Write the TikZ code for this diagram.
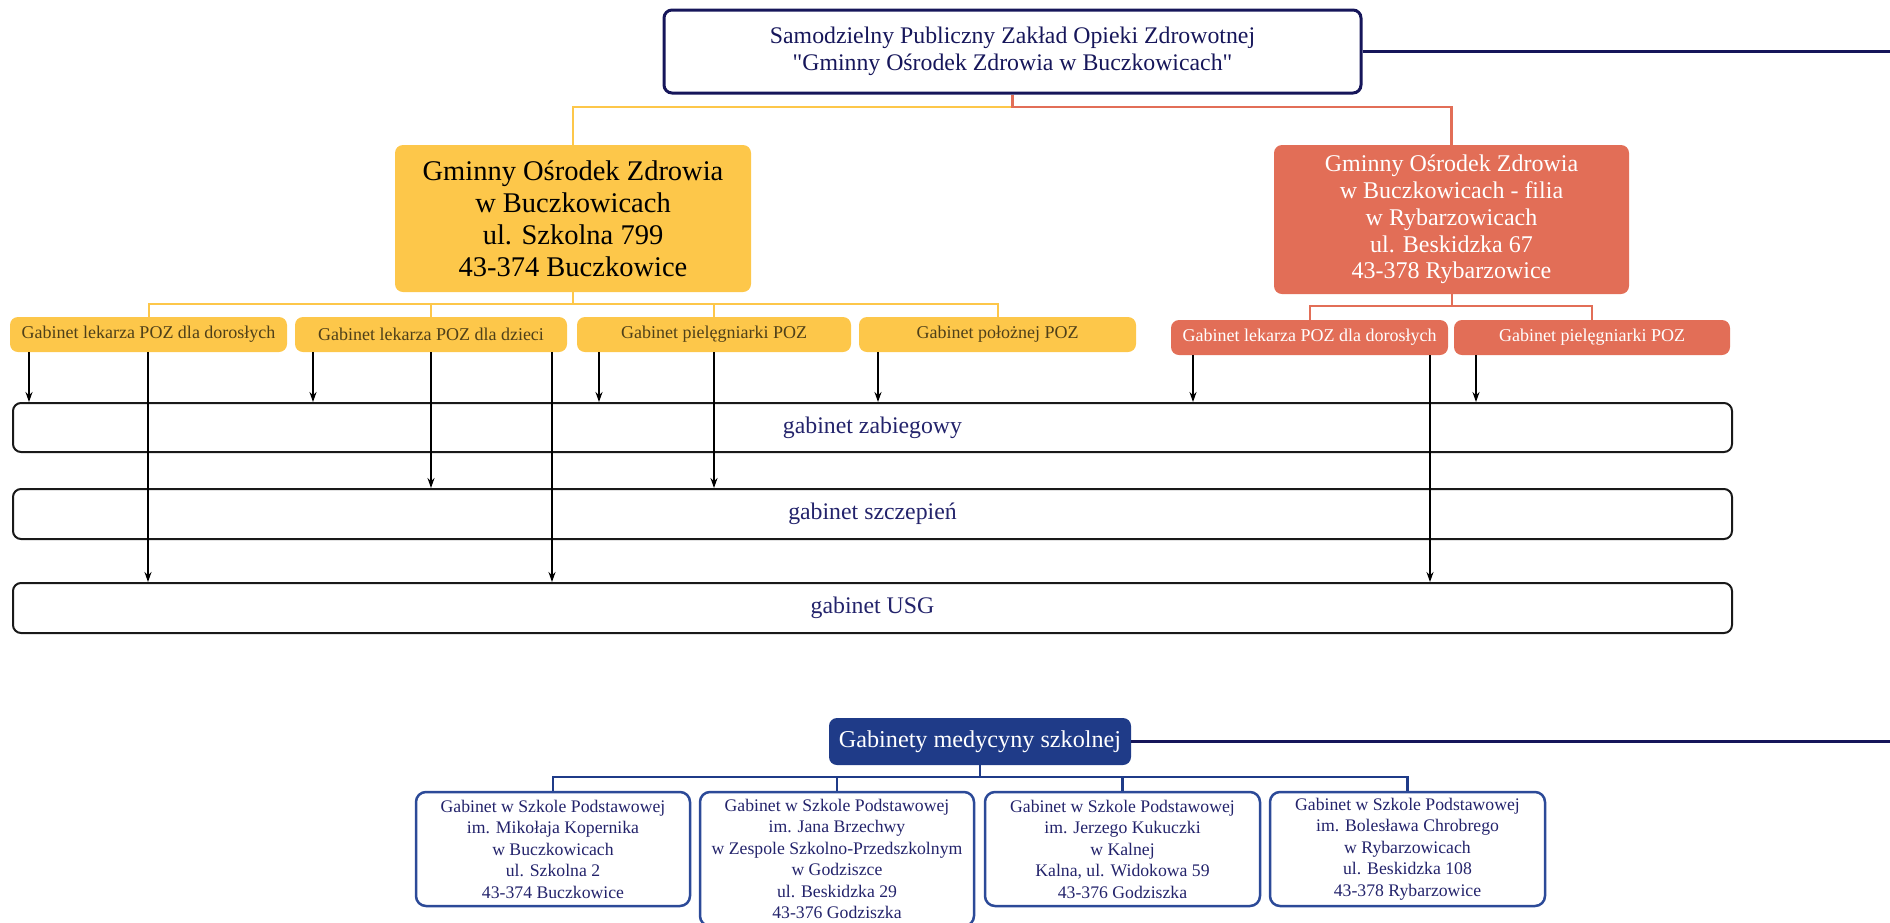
\documentclass[tikz,border=0pt]{standalone}
\usepackage{fontspec}
\setmainfont{Liberation Serif}
\usetikzlibrary{arrows.meta}

\definecolor{granat}{HTML}{16165A}
\definecolor{tekst}{HTML}{23236B}
\definecolor{zolty}{HTML}{FDC74A}
\definecolor{czerwony}{HTML}{E26E57}
\definecolor{szkola}{HTML}{1F3B88}
\definecolor{ramka}{HTML}{2C4A98}
\definecolor{braz}{HTML}{4F4019}

\begin{document}
\begin{tikzpicture}[x=1pt, y=-1pt,
    box/.style={rounded corners=8pt, align=center, inner sep=0pt},
    glowny/.style={box, draw=granat, line width=3pt, text=granat,
      minimum width=697pt, minimum height=83pt,
      font=\fontsize{23.8}{27}\selectfont},
    zolta/.style={box, fill=zolty, text=black, minimum width=356pt, minimum height=147pt,
      font=\fontsize{28.5}{32}\selectfont},
    czerwona/.style={box, fill=czerwony, text=white, minimum width=355pt, minimum height=149pt,
      font=\fontsize{24}{26.8}\selectfont},
    poz/.style={box, minimum height=35pt, font=\fontsize{18}{20}\selectfont},
    gabinet/.style={box, draw=black!90, line width=2pt, text=tekst,
      minimum width=1719pt, minimum height=49pt, font=\fontsize{23.8}{26}\selectfont},
    szkolny/.style={box, rounded corners=10pt, draw=ramka, line width=2.5pt, text=tekst,
      minimum width=274pt, minimum height=114pt, font=\fontsize{17.7}{21.5}\selectfont},
    arr/.style={-{Stealth[length=10pt, width=7pt]}, line width=2.3pt},
    zlink/.style={zolty, line width=2.5pt},
    clink/.style={czerwony, line width=2.5pt},
    slink/.style={szkola, line width=2.2pt}
  ]

  \useasboundingbox (0,0) rectangle (1890,922);

  % Main unit
  \node[glowny] (top) at (1012.5,51.5) {Samodzielny Publiczny Zakład Opieki Zdrowotnej\\\textquotedbl Gminny Ośrodek Zdrowia w Buczkowicach\textquotedbl};
  \coordinate (topend) at (1890,51.5);
  \draw[granat, line width=3pt] (top.east) -- (topend);

  % Two centres
  \node[zolta] (ybig) at (573,218.5) {Gminny Ośrodek Zdrowia\\w Buczkowicach\\ul. Szkolna 799\\43-374 Buczkowice};
  \node[czerwona] (rbig) at (1451.5,219.5) {Gminny Ośrodek Zdrowia\\w Buczkowicach - filia\\w Rybarzowicach\\ul. Beskidzka 67\\43-378 Rybarzowice};

  \coordinate (split) at (1012.5,107);
  \draw[zlink] (split) -| (ybig.north);
  \draw[clink] (top.south) -- (split) -| (rbig.north);

  % Clinics of the main centre
  \node[poz, fill=zolty, text=braz, minimum width=277pt] (y1) at (148.5,334.5) {Gabinet lekarza POZ dla dorosłych};
  \node[poz, fill=zolty, text=braz, minimum width=272pt] (y2) at (431,334.5) {Gabinet lekarza POZ dla dzieci};
  \node[poz, fill=zolty, text=braz, minimum width=274pt] (y3) at (714,334.5) {Gabinet pielęgniarki POZ};
  \node[poz, fill=zolty, text=braz, minimum width=277pt] (y4) at (997.5,334.5) {Gabinet położnej POZ};

  % Clinics of the branch
  \node[poz, fill=czerwony, text=white, minimum width=277pt] (r1) at (1309.5,337.5) {Gabinet lekarza POZ dla dorosłych};
  \node[poz, fill=czerwony, text=white, minimum width=276pt] (r2) at (1592,337.5) {Gabinet pielęgniarki POZ};

  \foreach \n in {y1,y2,y3,y4}
  {
    \draw[zlink, line width=2pt] (ybig.south) -- ++(0,12) -| (\n.north);
  }
  \foreach \n in {r1,r2}
  {
    \draw[clink, line width=2pt] (rbig.south) -- ++(0,12) -| (\n.north);
  }

  % Shared rooms
  \node[gabinet] (zab) at (872.5,427.5) {gabinet zabiegowy};
  \node[gabinet, minimum height=50pt] (szc) at (872.5,514) {gabinet szczepień};
  \node[gabinet, minimum height=50pt] (usg) at (872.5,608) {gabinet USG};

  % Arrows from the clinics to the rooms
  \foreach \x/\src/\dst in {29/y1/zab, 148/y1/usg, 313/y2/zab, 431/y2/szc, 552/y2/usg,
      599/y3/zab, 714/y3/szc, 878/y4/zab, 1193/r1/zab, 1430/r1/usg, 1476/r2/zab}
  {
    \draw[arr] (\x,0 |- \src.south) -- (\x,0 |- \dst.north);
  }

  % School medicine
  \node[box, fill=szkola, text=white, minimum width=302pt, minimum height=47pt,
    font=\fontsize{24.2}{26}\selectfont] (school) at (980,741.5) {Gabinety medycyny szkolnej};
  \coordinate (schoolend) at (1890,741.5);
  \draw[granat, line width=3pt] (school.east) -- (schoolend);

  \node[szkolny] (s1) at (553,849) {Gabinet w Szkole Podstawowej\\im. Mikołaja Kopernika\\w Buczkowicach\\ul. Szkolna 2\\43-374 Buczkowice};
  \node[szkolny, minimum height=134pt] (s2) at (837,859) {Gabinet w Szkole Podstawowej\\im. Jana Brzechwy\\w Zespole Szkolno-Przedszkolnym\\w Godziszce\\ul. Beskidzka 29\\43-376 Godziszka};
  \node[szkolny, minimum width=275pt] (s3) at (1122.5,849) {Gabinet w Szkole Podstawowej\\im. Jerzego Kukuczki\\w Kalnej\\Kalna, ul. Widokowa 59\\43-376 Godziszka};
  \node[szkolny, minimum width=275pt] (s4) at (1407.5,849) {Gabinet w Szkole Podstawowej\\im. Bolesława Chrobrego\\w Rybarzowicach\\ul. Beskidzka 108\\43-378 Rybarzowice};

  \foreach \n in {s1,s2,s3,s4}
  {
    \draw[slink] (school.south) -- ++(0,12) -| (\n.north);
  }
\end{tikzpicture}
\end{document}
